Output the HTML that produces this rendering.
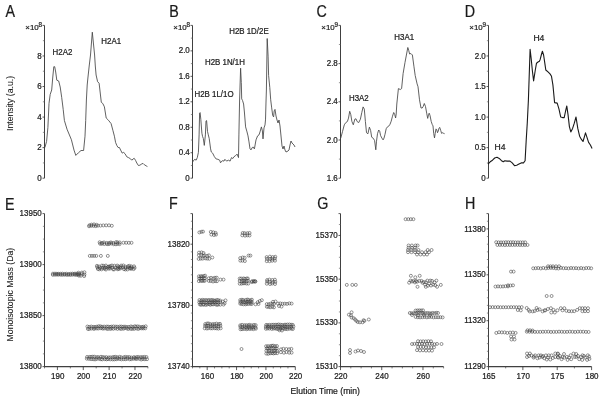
<!DOCTYPE html>
<html><head><meta charset="utf-8"><style>
html,body{margin:0;padding:0;background:#fff;width:604px;height:401px;overflow:hidden}
svg{display:block;will-change:transform}
text{font-family:"Liberation Sans",sans-serif;stroke:#222;stroke-width:0.22px}
circle{fill:none;stroke:#3c3c3c;stroke-width:0.55}
</style></head><body>
<svg width="604" height="401" viewBox="0 0 604 401" font-family="Liberation Sans, sans-serif" fill="#222">
<rect width="604" height="401" fill="#fff"/>
<text transform="translate(5.4,16.6) scale(1,1.11)" font-size="14.3" fill="#1a1a1a">A</text>
<text transform="translate(169.3,17.1) scale(1,1.11)" font-size="14.3" fill="#1a1a1a">B</text>
<text transform="translate(316.6,17.1) scale(1,1.11)" font-size="14.3" fill="#1a1a1a">C</text>
<text transform="translate(464.8,17.0) scale(1,1.11)" font-size="14.3" fill="#1a1a1a">D</text>
<text transform="translate(5.0,209.8) scale(1,1.11)" font-size="14.3" fill="#1a1a1a">E</text>
<text transform="translate(169.0,209.0) scale(1,1.11)" font-size="14.3" fill="#1a1a1a">F</text>
<text transform="translate(317.3,209.1) scale(1,1.11)" font-size="14.3" fill="#1a1a1a">G</text>
<text transform="translate(465.1,208.6) scale(1,1.11)" font-size="14.3" fill="#1a1a1a">H</text>
<text transform="translate(13.2,103.5) rotate(-90)" font-size="8.7" text-anchor="middle" style="stroke-width:0.08px">Intensity (a.u.)</text>
<text transform="translate(13.4,294.6) rotate(-90)" font-size="8.7" text-anchor="middle" style="stroke-width:0.08px">Monoisotopic Mass (Da)</text>
<text x="290.6" y="393.6" font-size="8.6">Elution Time (min)</text>
<line x1="44.5" y1="25.4" x2="44.5" y2="178.2" stroke="#404040" stroke-width="1.05"/>
<line x1="42.5" y1="178.20" x2="44.5" y2="178.20" stroke="#333" stroke-width="0.8"/>
<text transform="translate(41.80,180.80) scale(1,1.12)" font-size="8.0" text-anchor="end">0</text>
<line x1="42.5" y1="147.64" x2="44.5" y2="147.64" stroke="#333" stroke-width="0.8"/>
<text transform="translate(41.80,150.24) scale(1,1.12)" font-size="8.0" text-anchor="end">2</text>
<line x1="42.5" y1="117.08" x2="44.5" y2="117.08" stroke="#333" stroke-width="0.8"/>
<text transform="translate(41.80,119.68) scale(1,1.12)" font-size="8.0" text-anchor="end">4</text>
<line x1="42.5" y1="86.52" x2="44.5" y2="86.52" stroke="#333" stroke-width="0.8"/>
<text transform="translate(41.80,89.12) scale(1,1.12)" font-size="8.0" text-anchor="end">6</text>
<line x1="42.5" y1="55.96" x2="44.5" y2="55.96" stroke="#333" stroke-width="0.8"/>
<text transform="translate(41.80,58.56) scale(1,1.12)" font-size="8.0" text-anchor="end">8</text>
<line x1="42.5" y1="25.40" x2="44.5" y2="25.40" stroke="#333" stroke-width="0.8"/>
<line x1="42.9" y1="162.92" x2="44.5" y2="162.92" stroke="#666" stroke-width="0.7"/>
<line x1="42.9" y1="132.36" x2="44.5" y2="132.36" stroke="#666" stroke-width="0.7"/>
<line x1="42.9" y1="101.80" x2="44.5" y2="101.80" stroke="#666" stroke-width="0.7"/>
<line x1="42.9" y1="71.24" x2="44.5" y2="71.24" stroke="#666" stroke-width="0.7"/>
<line x1="42.9" y1="40.68" x2="44.5" y2="40.68" stroke="#666" stroke-width="0.7"/>
<text x="38.70" y="29.9" font-size="7.9" text-anchor="end">×10</text>
<text x="42.10" y="27.0" font-size="6.3" text-anchor="end">8</text>
<line x1="192.5" y1="25.4" x2="192.5" y2="178.2" stroke="#404040" stroke-width="1.05"/>
<line x1="190.5" y1="178.20" x2="192.5" y2="178.20" stroke="#333" stroke-width="0.8"/>
<text transform="translate(189.80,180.80) scale(1,1.12)" font-size="8.0" text-anchor="end">0</text>
<line x1="190.5" y1="152.73" x2="192.5" y2="152.73" stroke="#333" stroke-width="0.8"/>
<text transform="translate(189.80,155.33) scale(1,1.12)" font-size="8.0" text-anchor="end">0.4</text>
<line x1="190.5" y1="127.27" x2="192.5" y2="127.27" stroke="#333" stroke-width="0.8"/>
<text transform="translate(189.80,129.87) scale(1,1.12)" font-size="8.0" text-anchor="end">0.8</text>
<line x1="190.5" y1="101.80" x2="192.5" y2="101.80" stroke="#333" stroke-width="0.8"/>
<text transform="translate(189.80,104.40) scale(1,1.12)" font-size="8.0" text-anchor="end">1.2</text>
<line x1="190.5" y1="76.33" x2="192.5" y2="76.33" stroke="#333" stroke-width="0.8"/>
<text transform="translate(189.80,78.93) scale(1,1.12)" font-size="8.0" text-anchor="end">1.6</text>
<line x1="190.5" y1="50.87" x2="192.5" y2="50.87" stroke="#333" stroke-width="0.8"/>
<text transform="translate(189.80,53.47) scale(1,1.12)" font-size="8.0" text-anchor="end">2.0</text>
<line x1="190.5" y1="25.40" x2="192.5" y2="25.40" stroke="#333" stroke-width="0.8"/>
<line x1="190.9" y1="165.47" x2="192.5" y2="165.47" stroke="#666" stroke-width="0.7"/>
<line x1="190.9" y1="140.00" x2="192.5" y2="140.00" stroke="#666" stroke-width="0.7"/>
<line x1="190.9" y1="114.53" x2="192.5" y2="114.53" stroke="#666" stroke-width="0.7"/>
<line x1="190.9" y1="89.07" x2="192.5" y2="89.07" stroke="#666" stroke-width="0.7"/>
<line x1="190.9" y1="63.60" x2="192.5" y2="63.60" stroke="#666" stroke-width="0.7"/>
<line x1="190.9" y1="38.13" x2="192.5" y2="38.13" stroke="#666" stroke-width="0.7"/>
<text x="186.70" y="29.9" font-size="7.9" text-anchor="end">×10</text>
<text x="190.10" y="27.0" font-size="6.3" text-anchor="end">8</text>
<line x1="340.5" y1="25.4" x2="340.5" y2="178.2" stroke="#404040" stroke-width="1.05"/>
<line x1="338.5" y1="178.20" x2="340.5" y2="178.20" stroke="#333" stroke-width="0.8"/>
<text transform="translate(337.80,180.80) scale(1,1.12)" font-size="8.0" text-anchor="end">1.6</text>
<line x1="338.5" y1="140.00" x2="340.5" y2="140.00" stroke="#333" stroke-width="0.8"/>
<text transform="translate(337.80,142.60) scale(1,1.12)" font-size="8.0" text-anchor="end">2.0</text>
<line x1="338.5" y1="101.80" x2="340.5" y2="101.80" stroke="#333" stroke-width="0.8"/>
<text transform="translate(337.80,104.40) scale(1,1.12)" font-size="8.0" text-anchor="end">2.4</text>
<line x1="338.5" y1="63.60" x2="340.5" y2="63.60" stroke="#333" stroke-width="0.8"/>
<text transform="translate(337.80,66.20) scale(1,1.12)" font-size="8.0" text-anchor="end">2.8</text>
<line x1="338.5" y1="25.40" x2="340.5" y2="25.40" stroke="#333" stroke-width="0.8"/>
<line x1="338.9" y1="159.10" x2="340.5" y2="159.10" stroke="#666" stroke-width="0.7"/>
<line x1="338.9" y1="120.90" x2="340.5" y2="120.90" stroke="#666" stroke-width="0.7"/>
<line x1="338.9" y1="82.70" x2="340.5" y2="82.70" stroke="#666" stroke-width="0.7"/>
<line x1="338.9" y1="44.50" x2="340.5" y2="44.50" stroke="#666" stroke-width="0.7"/>
<text x="334.70" y="29.9" font-size="7.9" text-anchor="end">×10</text>
<text x="338.10" y="27.0" font-size="6.3" text-anchor="end">9</text>
<line x1="488.5" y1="25.4" x2="488.5" y2="178.2" stroke="#404040" stroke-width="1.05"/>
<line x1="486.5" y1="178.20" x2="488.5" y2="178.20" stroke="#333" stroke-width="0.8"/>
<text transform="translate(485.80,180.80) scale(1,1.12)" font-size="8.0" text-anchor="end">0</text>
<line x1="486.5" y1="147.64" x2="488.5" y2="147.64" stroke="#333" stroke-width="0.8"/>
<text transform="translate(485.80,150.24) scale(1,1.12)" font-size="8.0" text-anchor="end">0.5</text>
<line x1="486.5" y1="117.08" x2="488.5" y2="117.08" stroke="#333" stroke-width="0.8"/>
<text transform="translate(485.80,119.68) scale(1,1.12)" font-size="8.0" text-anchor="end">1.0</text>
<line x1="486.5" y1="86.52" x2="488.5" y2="86.52" stroke="#333" stroke-width="0.8"/>
<text transform="translate(485.80,89.12) scale(1,1.12)" font-size="8.0" text-anchor="end">1.5</text>
<line x1="486.5" y1="55.96" x2="488.5" y2="55.96" stroke="#333" stroke-width="0.8"/>
<text transform="translate(485.80,58.56) scale(1,1.12)" font-size="8.0" text-anchor="end">2.0</text>
<line x1="486.5" y1="25.40" x2="488.5" y2="25.40" stroke="#333" stroke-width="0.8"/>
<line x1="486.9" y1="162.92" x2="488.5" y2="162.92" stroke="#666" stroke-width="0.7"/>
<line x1="486.9" y1="132.36" x2="488.5" y2="132.36" stroke="#666" stroke-width="0.7"/>
<line x1="486.9" y1="101.80" x2="488.5" y2="101.80" stroke="#666" stroke-width="0.7"/>
<line x1="486.9" y1="71.24" x2="488.5" y2="71.24" stroke="#666" stroke-width="0.7"/>
<line x1="486.9" y1="40.68" x2="488.5" y2="40.68" stroke="#666" stroke-width="0.7"/>
<text x="482.70" y="29.9" font-size="7.9" text-anchor="end">×10</text>
<text x="486.10" y="27.0" font-size="6.3" text-anchor="end">9</text>
<polyline points="44.9,147.5 46.6,141.4 47.9,127.5 49,103.4 50.2,94.4 51.7,90 52.7,78 53.8,66.7 54.7,66.7 55.7,72 56.8,80.2 58.7,81 60.2,87 61.7,97.4 63.2,109.4 64.4,120.5 67,129.2 71.4,139.7 74,150.1 75.8,155.4 78.4,152.8 81,150.5 83.6,150.5 85,136.2 85.7,120.5 86.4,100 87.2,85 87.9,78 89.2,66 90.5,55 92.3,32.2 94.6,55 95.3,66 96.1,75 97.6,81.7 99.1,83.2 99.9,90 101.3,102.3 102.8,103.5 104.4,106.8 106.2,118 108.5,120.3 111.1,123.6 112.9,130.4 114.4,136.2 115.6,142.5 116.9,145.6 118.1,147.5 119.4,147.5 120.6,150 122.2,153.1 123.7,152.4 125,153.7 126.8,156.8 128.7,157.7 130.6,158.9 131.8,160.2 133.1,158.9 134.3,158.4 135.6,160.5 136.8,163 138.4,165.5 139.9,165.2 141.8,163.9 143,163.4 144.3,164.7 146.2,165.9 147.4,166.5" fill="none" stroke="#444" stroke-width="0.85" stroke-linejoin="round"/>
<text transform="translate(52.6,54.8) scale(1,1.12)" font-size="7.9">H2A2</text>
<text transform="translate(101.3,43.6) scale(1,1.12)" font-size="7.9">H2A1</text>
<polyline points="192.6,162 193.8,160.2 194.9,159.3 196.1,160.2 197.3,157.6 198.4,152.4 199.1,134.9 199.6,113.1 200.1,112.6 200.8,119.2 201.9,133.2 202.6,136.6 203.3,138.4 204.3,145.4 205.4,134.9 206,120.9 206.6,120.6 207.5,131.4 208.3,134.9 209.2,138.4 210.6,148.9 211.3,152 212.7,153.2 214.4,156.7 216.2,159 217.9,159.3 219.7,160.2 220.5,162.8 222.3,160.7 224,161.1 224.9,159.3 226.6,161.1 228.4,160.2 230.1,161.1 231.5,157.6 232.8,158.5 234,156.7 235.4,155.8 237.1,154.1 238.5,157.6 238.9,134.9 239.6,100 240.6,68.2 241.3,82.5 241.7,98.9 242.5,100.4 243.6,104 244.4,112 245.6,126.9 247,131.9 248,135.9 249,141.9 250,148.9 251,149.9 252,147.9 253,146.9 254.4,148.9 256,139.9 257.6,135.9 259,134.9 260,131.9 261.4,126.9 262.4,130.9 263,138.9 264,127.9 265,124.9 265.5,119.9 266,102 266.4,90 267.2,38.5 268.1,56.2 268.6,75.4 269.8,87.6 270.7,99.8 271.7,107.9 272.7,115.4 273.6,116.9 274.2,110.9 275,109.4 276,116 277,120 278,123 279,120 280,126 281,136 282,146 283,149 284,146 285,150 286,152 288,151 289,150 290,145 291,141 292,143 293,144 294,145 295,147" fill="none" stroke="#444" stroke-width="0.85" stroke-linejoin="round"/>
<text transform="translate(229.2,33.9) scale(1,1.12)" font-size="7.9">H2B 1D/2E</text>
<text transform="translate(205.0,65.0) scale(1,1.12)" font-size="7.9">H2B 1N/1H</text>
<text transform="translate(194.5,97.0) scale(1,1.12)" font-size="7.9">H2B 1L/1O</text>
<polyline points="340.7,138.3 342.5,131.6 344.3,124.8 345.8,122.6 347.4,121.5 348.5,118.1 349.7,111.3 350.8,114.7 351.9,121.5 353.3,124.8 354.8,119.2 356,118.8 357.1,121.5 358.7,122.6 360.4,119.2 361.8,112.5 363.1,106.9 364.3,109.1 365.4,121.5 366.5,132.7 367.9,133.8 369.4,127.1 370.6,130.4 371.7,137.2 373.3,138.3 374.6,140.6 375.8,149.8 376.5,141.2 377.5,133.7 378.7,130 379.7,131.2 380.6,135.6 381.9,138.1 383.1,139.9 384,138.1 385,134.3 386.2,128.7 387.5,126.8 388.7,126.2 390,124.3 391.2,121.2 392.5,116.2 393.7,112.5 394.7,114.4 395.6,118 396.2,114 396.8,104 398.4,88.6 400.3,89.5 401.6,88.6 403.1,73.6 405,62.4 406.4,55 407.8,47.5 408.7,50.3 409.6,54 410.9,53.5 412.4,55 413.9,66.2 415.2,75.5 417.1,83.9 418,86.7 419.5,99.8 421,108 422.2,108 423.2,106.5 424.3,103.5 425.5,106.5 426.7,113.2 427.7,118.4 428.5,114.7 429.2,113.2 430,115.4 431.2,121.4 432.2,124.4 433,125.9 433.7,133.4 434.5,137.9 435.2,133.4 436,128.9 436.7,129.7 437.5,132.7 438.2,131.2 439,128.2 439.7,127.4 440.7,130.4 441.6,133.4 442.7,132.7 443.7,133.4 444.6,133.7" fill="none" stroke="#444" stroke-width="0.85" stroke-linejoin="round"/>
<text transform="translate(394.3,39.8) scale(1,1.12)" font-size="7.9">H3A1</text>
<text transform="translate(349.0,100.6) scale(1,1.12)" font-size="7.9">H3A2</text>
<polyline points="488,164 490.2,161.8 492.5,160.2 494.7,158 497,157.3 499.2,158.4 501.5,160.7 503.3,161.8 504.8,160.7 507.1,161.1 510,161.1 512.2,162.9 514.5,165.6 516.7,165.2 519,164 521.2,162.9 523.5,162.9 525.1,160.7 526.2,140.4 527.3,122.5 528.4,100 530.1,49.3 531.2,58.7 532.3,70 533.6,80.9 535.3,70 536.5,63.2 538,62 539.4,61.3 540.2,59.4 541.3,55 542.4,51.2 543.6,55 544.7,62.4 545.8,70 548,71.9 550,73.9 551.5,76.3 552.9,84.9 553.4,90 554.6,102.6 557.2,103.1 559,109.2 560.7,117 562.5,117.6 564.2,117.6 565.6,111 566.8,106 568,114.4 569.4,126.6 570.8,131.9 572.6,128.4 574.3,123.2 576,117 577.8,128.4 579.6,136.2 581.6,139.7 583,141.5 584.3,137.1 585.5,132.8 586.9,137.1 588.6,142.4 590.4,145 592.1,148.5" fill="none" stroke="#1a1a1a" stroke-width="1.1" stroke-linejoin="round"/>
<text x="533.4" y="41.0" font-size="8.6">H4</text>
<text x="494.5" y="149.8" font-size="8.6">H4</text>
<line x1="44.5" y1="213.6" x2="44.5" y2="366.6" stroke="#404040" stroke-width="1.05"/>
<line x1="42.5" y1="366.60" x2="44.5" y2="366.60" stroke="#333" stroke-width="0.8"/>
<text transform="translate(41.80,369.20) scale(1,1.12)" font-size="8.0" text-anchor="end">13800</text>
<line x1="42.5" y1="315.60" x2="44.5" y2="315.60" stroke="#333" stroke-width="0.8"/>
<text transform="translate(41.80,318.20) scale(1,1.12)" font-size="8.0" text-anchor="end">13850</text>
<line x1="42.5" y1="264.60" x2="44.5" y2="264.60" stroke="#333" stroke-width="0.8"/>
<text transform="translate(41.80,267.20) scale(1,1.12)" font-size="8.0" text-anchor="end">13900</text>
<line x1="42.5" y1="213.60" x2="44.5" y2="213.60" stroke="#333" stroke-width="0.8"/>
<text transform="translate(41.80,216.20) scale(1,1.12)" font-size="8.0" text-anchor="end">13950</text>
<line x1="42.9" y1="353.85" x2="44.5" y2="353.85" stroke="#666" stroke-width="0.7"/>
<line x1="42.9" y1="341.10" x2="44.5" y2="341.10" stroke="#666" stroke-width="0.7"/>
<line x1="42.9" y1="328.35" x2="44.5" y2="328.35" stroke="#666" stroke-width="0.7"/>
<line x1="42.9" y1="302.85" x2="44.5" y2="302.85" stroke="#666" stroke-width="0.7"/>
<line x1="42.9" y1="290.10" x2="44.5" y2="290.10" stroke="#666" stroke-width="0.7"/>
<line x1="42.9" y1="277.35" x2="44.5" y2="277.35" stroke="#666" stroke-width="0.7"/>
<line x1="42.9" y1="251.85" x2="44.5" y2="251.85" stroke="#666" stroke-width="0.7"/>
<line x1="42.9" y1="239.10" x2="44.5" y2="239.10" stroke="#666" stroke-width="0.7"/>
<line x1="42.9" y1="226.35" x2="44.5" y2="226.35" stroke="#666" stroke-width="0.7"/>
<line x1="44.0" y1="366.6" x2="147.9" y2="366.6" stroke="#404040" stroke-width="1.05"/>
<line x1="57.42" y1="366.6" x2="57.42" y2="370.1" stroke="#333" stroke-width="0.8"/>
<text transform="translate(57.72,378.70) scale(1,1.12)" font-size="8.0" text-anchor="middle">190</text>
<line x1="83.28" y1="366.6" x2="83.28" y2="370.1" stroke="#333" stroke-width="0.8"/>
<text transform="translate(83.58,378.70) scale(1,1.12)" font-size="8.0" text-anchor="middle">200</text>
<line x1="109.12" y1="366.6" x2="109.12" y2="370.1" stroke="#333" stroke-width="0.8"/>
<text transform="translate(109.42,378.70) scale(1,1.12)" font-size="8.0" text-anchor="middle">210</text>
<line x1="134.97" y1="366.6" x2="134.97" y2="370.1" stroke="#333" stroke-width="0.8"/>
<text transform="translate(135.28,378.70) scale(1,1.12)" font-size="8.0" text-anchor="middle">220</text>
<line x1="44.50" y1="366.6" x2="44.50" y2="368.40000000000003" stroke="#444" stroke-width="0.7"/>
<line x1="70.35" y1="366.6" x2="70.35" y2="368.40000000000003" stroke="#444" stroke-width="0.7"/>
<line x1="96.20" y1="366.6" x2="96.20" y2="368.40000000000003" stroke="#444" stroke-width="0.7"/>
<line x1="122.05" y1="366.6" x2="122.05" y2="368.40000000000003" stroke="#444" stroke-width="0.7"/>
<line x1="147.90" y1="366.6" x2="147.90" y2="368.40000000000003" stroke="#444" stroke-width="0.7"/>
<line x1="192.5" y1="213.6" x2="192.5" y2="366.6" stroke="#404040" stroke-width="1.05"/>
<line x1="190.5" y1="366.60" x2="192.5" y2="366.60" stroke="#333" stroke-width="0.8"/>
<text transform="translate(189.80,369.20) scale(1,1.12)" font-size="8.0" text-anchor="end">13740</text>
<line x1="190.5" y1="305.40" x2="192.5" y2="305.40" stroke="#333" stroke-width="0.8"/>
<text transform="translate(189.80,308.00) scale(1,1.12)" font-size="8.0" text-anchor="end">13780</text>
<line x1="190.5" y1="244.20" x2="192.5" y2="244.20" stroke="#333" stroke-width="0.8"/>
<text transform="translate(189.80,246.80) scale(1,1.12)" font-size="8.0" text-anchor="end">13820</text>
<line x1="190.5" y1="213.60" x2="192.5" y2="213.60" stroke="#333" stroke-width="0.8"/>
<line x1="190.9" y1="358.95" x2="192.5" y2="358.95" stroke="#666" stroke-width="0.7"/>
<line x1="190.9" y1="351.30" x2="192.5" y2="351.30" stroke="#666" stroke-width="0.7"/>
<line x1="190.9" y1="343.65" x2="192.5" y2="343.65" stroke="#666" stroke-width="0.7"/>
<line x1="190.9" y1="336.00" x2="192.5" y2="336.00" stroke="#666" stroke-width="0.7"/>
<line x1="190.9" y1="328.35" x2="192.5" y2="328.35" stroke="#666" stroke-width="0.7"/>
<line x1="190.9" y1="320.70" x2="192.5" y2="320.70" stroke="#666" stroke-width="0.7"/>
<line x1="190.9" y1="313.05" x2="192.5" y2="313.05" stroke="#666" stroke-width="0.7"/>
<line x1="190.9" y1="297.75" x2="192.5" y2="297.75" stroke="#666" stroke-width="0.7"/>
<line x1="190.9" y1="290.10" x2="192.5" y2="290.10" stroke="#666" stroke-width="0.7"/>
<line x1="190.9" y1="282.45" x2="192.5" y2="282.45" stroke="#666" stroke-width="0.7"/>
<line x1="190.9" y1="274.80" x2="192.5" y2="274.80" stroke="#666" stroke-width="0.7"/>
<line x1="190.9" y1="267.15" x2="192.5" y2="267.15" stroke="#666" stroke-width="0.7"/>
<line x1="190.9" y1="259.50" x2="192.5" y2="259.50" stroke="#666" stroke-width="0.7"/>
<line x1="190.9" y1="251.85" x2="192.5" y2="251.85" stroke="#666" stroke-width="0.7"/>
<line x1="190.9" y1="236.55" x2="192.5" y2="236.55" stroke="#666" stroke-width="0.7"/>
<line x1="190.9" y1="228.90" x2="192.5" y2="228.90" stroke="#666" stroke-width="0.7"/>
<line x1="190.9" y1="221.25" x2="192.5" y2="221.25" stroke="#666" stroke-width="0.7"/>
<line x1="192.0" y1="366.6" x2="295.3" y2="366.6" stroke="#404040" stroke-width="1.05"/>
<line x1="207.19" y1="366.6" x2="207.19" y2="370.1" stroke="#333" stroke-width="0.8"/>
<text transform="translate(207.49,378.70) scale(1,1.12)" font-size="8.0" text-anchor="middle">160</text>
<line x1="236.56" y1="366.6" x2="236.56" y2="370.1" stroke="#333" stroke-width="0.8"/>
<text transform="translate(236.86,378.70) scale(1,1.12)" font-size="8.0" text-anchor="middle">180</text>
<line x1="265.93" y1="366.6" x2="265.93" y2="370.1" stroke="#333" stroke-width="0.8"/>
<text transform="translate(266.23,378.70) scale(1,1.12)" font-size="8.0" text-anchor="middle">200</text>
<line x1="295.30" y1="366.6" x2="295.30" y2="370.1" stroke="#333" stroke-width="0.8"/>
<text transform="translate(295.60,378.70) scale(1,1.12)" font-size="8.0" text-anchor="middle">220</text>
<line x1="192.50" y1="366.6" x2="192.50" y2="368.40000000000003" stroke="#444" stroke-width="0.7"/>
<line x1="199.84" y1="366.6" x2="199.84" y2="368.40000000000003" stroke="#444" stroke-width="0.7"/>
<line x1="214.53" y1="366.6" x2="214.53" y2="368.40000000000003" stroke="#444" stroke-width="0.7"/>
<line x1="221.87" y1="366.6" x2="221.87" y2="368.40000000000003" stroke="#444" stroke-width="0.7"/>
<line x1="229.21" y1="366.6" x2="229.21" y2="368.40000000000003" stroke="#444" stroke-width="0.7"/>
<line x1="243.90" y1="366.6" x2="243.90" y2="368.40000000000003" stroke="#444" stroke-width="0.7"/>
<line x1="251.24" y1="366.6" x2="251.24" y2="368.40000000000003" stroke="#444" stroke-width="0.7"/>
<line x1="258.59" y1="366.6" x2="258.59" y2="368.40000000000003" stroke="#444" stroke-width="0.7"/>
<line x1="273.27" y1="366.6" x2="273.27" y2="368.40000000000003" stroke="#444" stroke-width="0.7"/>
<line x1="280.61" y1="366.6" x2="280.61" y2="368.40000000000003" stroke="#444" stroke-width="0.7"/>
<line x1="287.96" y1="366.6" x2="287.96" y2="368.40000000000003" stroke="#444" stroke-width="0.7"/>
<line x1="340.5" y1="213.6" x2="340.5" y2="366.6" stroke="#404040" stroke-width="1.05"/>
<line x1="338.5" y1="366.60" x2="340.5" y2="366.60" stroke="#333" stroke-width="0.8"/>
<text transform="translate(337.80,369.20) scale(1,1.12)" font-size="8.0" text-anchor="end">15310</text>
<line x1="338.5" y1="322.89" x2="340.5" y2="322.89" stroke="#333" stroke-width="0.8"/>
<text transform="translate(337.80,325.49) scale(1,1.12)" font-size="8.0" text-anchor="end">15330</text>
<line x1="338.5" y1="279.17" x2="340.5" y2="279.17" stroke="#333" stroke-width="0.8"/>
<text transform="translate(337.80,281.77) scale(1,1.12)" font-size="8.0" text-anchor="end">15350</text>
<line x1="338.5" y1="235.46" x2="340.5" y2="235.46" stroke="#333" stroke-width="0.8"/>
<text transform="translate(337.80,238.06) scale(1,1.12)" font-size="8.0" text-anchor="end">15370</text>
<line x1="338.5" y1="213.60" x2="340.5" y2="213.60" stroke="#333" stroke-width="0.8"/>
<line x1="338.9" y1="355.67" x2="340.5" y2="355.67" stroke="#666" stroke-width="0.7"/>
<line x1="338.9" y1="344.74" x2="340.5" y2="344.74" stroke="#666" stroke-width="0.7"/>
<line x1="338.9" y1="333.81" x2="340.5" y2="333.81" stroke="#666" stroke-width="0.7"/>
<line x1="338.9" y1="311.96" x2="340.5" y2="311.96" stroke="#666" stroke-width="0.7"/>
<line x1="338.9" y1="301.03" x2="340.5" y2="301.03" stroke="#666" stroke-width="0.7"/>
<line x1="338.9" y1="290.10" x2="340.5" y2="290.10" stroke="#666" stroke-width="0.7"/>
<line x1="338.9" y1="268.24" x2="340.5" y2="268.24" stroke="#666" stroke-width="0.7"/>
<line x1="338.9" y1="257.31" x2="340.5" y2="257.31" stroke="#666" stroke-width="0.7"/>
<line x1="338.9" y1="246.39" x2="340.5" y2="246.39" stroke="#666" stroke-width="0.7"/>
<line x1="338.9" y1="224.53" x2="340.5" y2="224.53" stroke="#666" stroke-width="0.7"/>
<line x1="340.0" y1="366.6" x2="443.6" y2="366.6" stroke="#404040" stroke-width="1.05"/>
<line x1="340.50" y1="366.6" x2="340.50" y2="370.1" stroke="#333" stroke-width="0.8"/>
<text transform="translate(340.80,378.70) scale(1,1.12)" font-size="8.0" text-anchor="middle">220</text>
<line x1="381.74" y1="366.6" x2="381.74" y2="370.1" stroke="#333" stroke-width="0.8"/>
<text transform="translate(382.04,378.70) scale(1,1.12)" font-size="8.0" text-anchor="middle">240</text>
<line x1="422.98" y1="366.6" x2="422.98" y2="370.1" stroke="#333" stroke-width="0.8"/>
<text transform="translate(423.28,378.70) scale(1,1.12)" font-size="8.0" text-anchor="middle">260</text>
<line x1="350.81" y1="366.6" x2="350.81" y2="368.40000000000003" stroke="#444" stroke-width="0.7"/>
<line x1="361.12" y1="366.6" x2="361.12" y2="368.40000000000003" stroke="#444" stroke-width="0.7"/>
<line x1="371.43" y1="366.6" x2="371.43" y2="368.40000000000003" stroke="#444" stroke-width="0.7"/>
<line x1="392.05" y1="366.6" x2="392.05" y2="368.40000000000003" stroke="#444" stroke-width="0.7"/>
<line x1="402.36" y1="366.6" x2="402.36" y2="368.40000000000003" stroke="#444" stroke-width="0.7"/>
<line x1="412.67" y1="366.6" x2="412.67" y2="368.40000000000003" stroke="#444" stroke-width="0.7"/>
<line x1="433.29" y1="366.6" x2="433.29" y2="368.40000000000003" stroke="#444" stroke-width="0.7"/>
<line x1="443.60" y1="366.6" x2="443.60" y2="368.40000000000003" stroke="#444" stroke-width="0.7"/>
<line x1="488.5" y1="213.6" x2="488.5" y2="366.6" stroke="#404040" stroke-width="1.05"/>
<line x1="486.5" y1="366.60" x2="488.5" y2="366.60" stroke="#333" stroke-width="0.8"/>
<text transform="translate(485.80,369.20) scale(1,1.12)" font-size="8.0" text-anchor="end">11290</text>
<line x1="486.5" y1="320.70" x2="488.5" y2="320.70" stroke="#333" stroke-width="0.8"/>
<text transform="translate(485.80,323.30) scale(1,1.12)" font-size="8.0" text-anchor="end">11320</text>
<line x1="486.5" y1="274.80" x2="488.5" y2="274.80" stroke="#333" stroke-width="0.8"/>
<text transform="translate(485.80,277.40) scale(1,1.12)" font-size="8.0" text-anchor="end">11350</text>
<line x1="486.5" y1="228.90" x2="488.5" y2="228.90" stroke="#333" stroke-width="0.8"/>
<text transform="translate(485.80,231.50) scale(1,1.12)" font-size="8.0" text-anchor="end">11380</text>
<line x1="486.5" y1="213.60" x2="488.5" y2="213.60" stroke="#333" stroke-width="0.8"/>
<line x1="486.9" y1="358.95" x2="488.5" y2="358.95" stroke="#666" stroke-width="0.7"/>
<line x1="486.9" y1="351.30" x2="488.5" y2="351.30" stroke="#666" stroke-width="0.7"/>
<line x1="486.9" y1="343.65" x2="488.5" y2="343.65" stroke="#666" stroke-width="0.7"/>
<line x1="486.9" y1="336.00" x2="488.5" y2="336.00" stroke="#666" stroke-width="0.7"/>
<line x1="486.9" y1="328.35" x2="488.5" y2="328.35" stroke="#666" stroke-width="0.7"/>
<line x1="486.9" y1="313.05" x2="488.5" y2="313.05" stroke="#666" stroke-width="0.7"/>
<line x1="486.9" y1="305.40" x2="488.5" y2="305.40" stroke="#666" stroke-width="0.7"/>
<line x1="486.9" y1="297.75" x2="488.5" y2="297.75" stroke="#666" stroke-width="0.7"/>
<line x1="486.9" y1="290.10" x2="488.5" y2="290.10" stroke="#666" stroke-width="0.7"/>
<line x1="486.9" y1="282.45" x2="488.5" y2="282.45" stroke="#666" stroke-width="0.7"/>
<line x1="486.9" y1="267.15" x2="488.5" y2="267.15" stroke="#666" stroke-width="0.7"/>
<line x1="486.9" y1="259.50" x2="488.5" y2="259.50" stroke="#666" stroke-width="0.7"/>
<line x1="486.9" y1="251.85" x2="488.5" y2="251.85" stroke="#666" stroke-width="0.7"/>
<line x1="486.9" y1="244.20" x2="488.5" y2="244.20" stroke="#666" stroke-width="0.7"/>
<line x1="486.9" y1="236.55" x2="488.5" y2="236.55" stroke="#666" stroke-width="0.7"/>
<line x1="486.9" y1="221.25" x2="488.5" y2="221.25" stroke="#666" stroke-width="0.7"/>
<line x1="488.0" y1="366.6" x2="591.6" y2="366.6" stroke="#404040" stroke-width="1.05"/>
<line x1="488.50" y1="366.6" x2="488.50" y2="370.1" stroke="#333" stroke-width="0.8"/>
<text transform="translate(488.80,378.70) scale(1,1.12)" font-size="8.0" text-anchor="middle">165</text>
<line x1="522.87" y1="366.6" x2="522.87" y2="370.1" stroke="#333" stroke-width="0.8"/>
<text transform="translate(523.17,378.70) scale(1,1.12)" font-size="8.0" text-anchor="middle">170</text>
<line x1="557.23" y1="366.6" x2="557.23" y2="370.1" stroke="#333" stroke-width="0.8"/>
<text transform="translate(557.53,378.70) scale(1,1.12)" font-size="8.0" text-anchor="middle">175</text>
<line x1="591.60" y1="366.6" x2="591.60" y2="370.1" stroke="#333" stroke-width="0.8"/>
<text transform="translate(591.90,378.70) scale(1,1.12)" font-size="8.0" text-anchor="middle">180</text>
<line x1="505.68" y1="366.6" x2="505.68" y2="368.40000000000003" stroke="#444" stroke-width="0.7"/>
<line x1="540.05" y1="366.6" x2="540.05" y2="368.40000000000003" stroke="#444" stroke-width="0.7"/>
<line x1="574.42" y1="366.6" x2="574.42" y2="368.40000000000003" stroke="#444" stroke-width="0.7"/>
<circle cx="52.93" cy="273.66" r="1.5"/>
<circle cx="54.98" cy="273.63" r="1.5"/>
<circle cx="56.86" cy="273.75" r="1.5"/>
<circle cx="58.59" cy="273.80" r="1.5"/>
<circle cx="60.51" cy="273.77" r="1.5"/>
<circle cx="62.44" cy="273.64" r="1.5"/>
<circle cx="64.51" cy="273.93" r="1.5"/>
<circle cx="66.31" cy="273.69" r="1.5"/>
<circle cx="68.44" cy="273.98" r="1.5"/>
<circle cx="70.34" cy="273.76" r="1.5"/>
<circle cx="72.42" cy="273.62" r="1.5"/>
<circle cx="74.30" cy="273.72" r="1.5"/>
<circle cx="75.93" cy="273.65" r="1.5"/>
<circle cx="77.92" cy="273.93" r="1.5"/>
<circle cx="52.87" cy="274.83" r="1.5"/>
<circle cx="54.98" cy="274.75" r="1.5"/>
<circle cx="56.87" cy="274.63" r="1.5"/>
<circle cx="58.59" cy="274.68" r="1.5"/>
<circle cx="60.76" cy="274.77" r="1.5"/>
<circle cx="62.54" cy="274.83" r="1.5"/>
<circle cx="64.52" cy="274.72" r="1.5"/>
<circle cx="66.58" cy="274.88" r="1.5"/>
<circle cx="68.28" cy="274.83" r="1.5"/>
<circle cx="70.32" cy="274.95" r="1.5"/>
<circle cx="72.32" cy="274.72" r="1.5"/>
<circle cx="74.35" cy="274.65" r="1.5"/>
<circle cx="76.04" cy="274.90" r="1.5"/>
<circle cx="77.86" cy="274.80" r="1.5"/>
<circle cx="78.45" cy="272.70" r="1.5"/>
<circle cx="81.82" cy="272.59" r="1.5"/>
<circle cx="84.45" cy="272.28" r="1.5"/>
<circle cx="79.23" cy="274.11" r="1.5"/>
<circle cx="81.60" cy="273.95" r="1.5"/>
<circle cx="84.41" cy="274.53" r="1.5"/>
<circle cx="78.97" cy="275.70" r="1.5"/>
<circle cx="80.97" cy="275.74" r="1.5"/>
<circle cx="84.18" cy="276.09" r="1.5"/>
<circle cx="89.00" cy="226.26" r="1.5"/>
<circle cx="91.25" cy="225.83" r="1.5"/>
<circle cx="93.50" cy="225.91" r="1.5"/>
<circle cx="95.75" cy="226.13" r="1.5"/>
<circle cx="98.00" cy="225.62" r="1.5"/>
<circle cx="91.50" cy="224.60" r="1.5"/>
<circle cx="94.00" cy="224.40" r="1.5"/>
<circle cx="96.50" cy="224.80" r="1.5"/>
<circle cx="89.50" cy="225.20" r="1.5"/>
<circle cx="100.50" cy="225.58" r="1.5"/>
<circle cx="103.33" cy="225.40" r="1.5"/>
<circle cx="106.15" cy="225.37" r="1.5"/>
<circle cx="108.97" cy="225.34" r="1.5"/>
<circle cx="111.80" cy="225.76" r="1.5"/>
<circle cx="99.63" cy="242.25" r="1.5"/>
<circle cx="102.11" cy="242.87" r="1.5"/>
<circle cx="104.03" cy="242.45" r="1.5"/>
<circle cx="106.72" cy="242.88" r="1.5"/>
<circle cx="109.21" cy="242.86" r="1.5"/>
<circle cx="110.89" cy="242.42" r="1.5"/>
<circle cx="113.19" cy="242.88" r="1.5"/>
<circle cx="116.01" cy="242.15" r="1.5"/>
<circle cx="117.45" cy="242.23" r="1.5"/>
<circle cx="119.73" cy="242.48" r="1.5"/>
<circle cx="100.09" cy="243.76" r="1.5"/>
<circle cx="101.73" cy="243.92" r="1.5"/>
<circle cx="104.31" cy="244.07" r="1.5"/>
<circle cx="107.12" cy="244.19" r="1.5"/>
<circle cx="108.90" cy="244.12" r="1.5"/>
<circle cx="111.29" cy="243.55" r="1.5"/>
<circle cx="113.73" cy="244.28" r="1.5"/>
<circle cx="115.93" cy="244.30" r="1.5"/>
<circle cx="117.67" cy="243.90" r="1.5"/>
<circle cx="119.60" cy="244.13" r="1.5"/>
<circle cx="123.50" cy="242.74" r="1.5"/>
<circle cx="126.17" cy="242.74" r="1.5"/>
<circle cx="128.83" cy="242.83" r="1.5"/>
<circle cx="131.50" cy="242.80" r="1.5"/>
<circle cx="89.80" cy="255.90" r="1.5"/>
<circle cx="91.97" cy="255.90" r="1.5"/>
<circle cx="94.13" cy="255.90" r="1.5"/>
<circle cx="96.30" cy="255.90" r="1.5"/>
<circle cx="100.90" cy="255.90" r="1.5"/>
<circle cx="107.80" cy="255.90" r="1.5"/>
<circle cx="96.94" cy="265.84" r="1.5"/>
<circle cx="98.98" cy="266.45" r="1.5"/>
<circle cx="101.95" cy="265.58" r="1.5"/>
<circle cx="103.59" cy="265.82" r="1.5"/>
<circle cx="105.90" cy="265.55" r="1.5"/>
<circle cx="108.72" cy="266.59" r="1.5"/>
<circle cx="110.33" cy="265.98" r="1.5"/>
<circle cx="111.95" cy="265.52" r="1.5"/>
<circle cx="114.46" cy="265.72" r="1.5"/>
<circle cx="117.28" cy="265.59" r="1.5"/>
<circle cx="118.30" cy="266.54" r="1.5"/>
<circle cx="121.16" cy="265.58" r="1.5"/>
<circle cx="123.33" cy="265.43" r="1.5"/>
<circle cx="125.45" cy="266.57" r="1.5"/>
<circle cx="128.07" cy="266.24" r="1.5"/>
<circle cx="129.37" cy="265.84" r="1.5"/>
<circle cx="131.39" cy="266.33" r="1.5"/>
<circle cx="134.05" cy="266.33" r="1.5"/>
<circle cx="97.26" cy="267.17" r="1.5"/>
<circle cx="100.08" cy="268.08" r="1.5"/>
<circle cx="102.29" cy="267.87" r="1.5"/>
<circle cx="104.39" cy="267.79" r="1.5"/>
<circle cx="105.71" cy="267.52" r="1.5"/>
<circle cx="108.03" cy="266.93" r="1.5"/>
<circle cx="109.72" cy="267.24" r="1.5"/>
<circle cx="112.19" cy="267.73" r="1.5"/>
<circle cx="115.32" cy="267.44" r="1.5"/>
<circle cx="117.44" cy="268.09" r="1.5"/>
<circle cx="119.61" cy="267.34" r="1.5"/>
<circle cx="120.73" cy="267.17" r="1.5"/>
<circle cx="122.84" cy="267.15" r="1.5"/>
<circle cx="125.59" cy="267.98" r="1.5"/>
<circle cx="128.04" cy="267.48" r="1.5"/>
<circle cx="129.92" cy="267.86" r="1.5"/>
<circle cx="131.27" cy="267.69" r="1.5"/>
<circle cx="134.57" cy="267.84" r="1.5"/>
<circle cx="97.85" cy="268.97" r="1.5"/>
<circle cx="99.20" cy="269.35" r="1.5"/>
<circle cx="101.56" cy="269.36" r="1.5"/>
<circle cx="104.60" cy="268.88" r="1.5"/>
<circle cx="105.95" cy="269.54" r="1.5"/>
<circle cx="108.55" cy="268.60" r="1.5"/>
<circle cx="109.86" cy="268.58" r="1.5"/>
<circle cx="113.10" cy="269.37" r="1.5"/>
<circle cx="114.18" cy="269.39" r="1.5"/>
<circle cx="117.50" cy="269.19" r="1.5"/>
<circle cx="118.76" cy="269.06" r="1.5"/>
<circle cx="120.60" cy="268.42" r="1.5"/>
<circle cx="123.92" cy="269.18" r="1.5"/>
<circle cx="125.45" cy="269.52" r="1.5"/>
<circle cx="127.47" cy="269.45" r="1.5"/>
<circle cx="130.16" cy="268.65" r="1.5"/>
<circle cx="131.51" cy="268.75" r="1.5"/>
<circle cx="133.64" cy="269.10" r="1.5"/>
<circle cx="87.41" cy="326.54" r="1.5"/>
<circle cx="89.18" cy="326.93" r="1.5"/>
<circle cx="91.22" cy="326.57" r="1.5"/>
<circle cx="93.28" cy="326.92" r="1.5"/>
<circle cx="95.02" cy="326.93" r="1.5"/>
<circle cx="96.96" cy="326.63" r="1.5"/>
<circle cx="98.84" cy="326.21" r="1.5"/>
<circle cx="100.65" cy="326.35" r="1.5"/>
<circle cx="102.17" cy="326.84" r="1.5"/>
<circle cx="104.18" cy="326.58" r="1.5"/>
<circle cx="106.49" cy="326.65" r="1.5"/>
<circle cx="108.04" cy="326.61" r="1.5"/>
<circle cx="110.10" cy="326.83" r="1.5"/>
<circle cx="111.61" cy="326.65" r="1.5"/>
<circle cx="113.59" cy="326.42" r="1.5"/>
<circle cx="115.88" cy="326.61" r="1.5"/>
<circle cx="117.58" cy="326.81" r="1.5"/>
<circle cx="119.74" cy="326.55" r="1.5"/>
<circle cx="121.37" cy="326.60" r="1.5"/>
<circle cx="123.16" cy="326.75" r="1.5"/>
<circle cx="124.98" cy="326.63" r="1.5"/>
<circle cx="126.87" cy="326.95" r="1.5"/>
<circle cx="128.92" cy="326.90" r="1.5"/>
<circle cx="130.99" cy="326.41" r="1.5"/>
<circle cx="132.55" cy="326.95" r="1.5"/>
<circle cx="134.65" cy="326.31" r="1.5"/>
<circle cx="135.94" cy="326.55" r="1.5"/>
<circle cx="137.77" cy="326.39" r="1.5"/>
<circle cx="139.65" cy="326.74" r="1.5"/>
<circle cx="142.09" cy="326.92" r="1.5"/>
<circle cx="143.45" cy="326.77" r="1.5"/>
<circle cx="145.73" cy="326.31" r="1.5"/>
<circle cx="87.91" cy="328.97" r="1.5"/>
<circle cx="89.25" cy="328.96" r="1.5"/>
<circle cx="91.26" cy="328.59" r="1.5"/>
<circle cx="93.60" cy="328.87" r="1.5"/>
<circle cx="94.81" cy="328.55" r="1.5"/>
<circle cx="96.97" cy="328.47" r="1.5"/>
<circle cx="98.58" cy="328.45" r="1.5"/>
<circle cx="100.87" cy="328.22" r="1.5"/>
<circle cx="102.61" cy="328.55" r="1.5"/>
<circle cx="104.05" cy="328.47" r="1.5"/>
<circle cx="106.41" cy="328.61" r="1.5"/>
<circle cx="107.83" cy="328.99" r="1.5"/>
<circle cx="110.28" cy="328.98" r="1.5"/>
<circle cx="111.61" cy="328.41" r="1.5"/>
<circle cx="113.43" cy="328.82" r="1.5"/>
<circle cx="115.48" cy="328.30" r="1.5"/>
<circle cx="117.47" cy="328.93" r="1.5"/>
<circle cx="119.66" cy="328.41" r="1.5"/>
<circle cx="121.00" cy="328.94" r="1.5"/>
<circle cx="123.20" cy="328.76" r="1.5"/>
<circle cx="124.69" cy="328.25" r="1.5"/>
<circle cx="127.04" cy="328.54" r="1.5"/>
<circle cx="128.42" cy="328.95" r="1.5"/>
<circle cx="130.74" cy="328.84" r="1.5"/>
<circle cx="132.17" cy="328.88" r="1.5"/>
<circle cx="134.03" cy="328.89" r="1.5"/>
<circle cx="136.21" cy="328.47" r="1.5"/>
<circle cx="138.16" cy="328.94" r="1.5"/>
<circle cx="139.80" cy="328.30" r="1.5"/>
<circle cx="141.88" cy="328.39" r="1.5"/>
<circle cx="143.42" cy="328.33" r="1.5"/>
<circle cx="145.24" cy="328.36" r="1.5"/>
<circle cx="87.05" cy="356.94" r="1.5"/>
<circle cx="89.33" cy="356.93" r="1.5"/>
<circle cx="91.05" cy="356.84" r="1.5"/>
<circle cx="92.85" cy="356.71" r="1.5"/>
<circle cx="94.69" cy="356.71" r="1.5"/>
<circle cx="97.00" cy="357.14" r="1.5"/>
<circle cx="98.49" cy="357.08" r="1.5"/>
<circle cx="101.01" cy="356.79" r="1.5"/>
<circle cx="102.84" cy="357.05" r="1.5"/>
<circle cx="104.50" cy="357.37" r="1.5"/>
<circle cx="106.34" cy="357.11" r="1.5"/>
<circle cx="108.50" cy="357.49" r="1.5"/>
<circle cx="110.15" cy="357.37" r="1.5"/>
<circle cx="112.36" cy="357.21" r="1.5"/>
<circle cx="114.04" cy="356.98" r="1.5"/>
<circle cx="115.68" cy="356.80" r="1.5"/>
<circle cx="117.62" cy="357.29" r="1.5"/>
<circle cx="119.69" cy="356.83" r="1.5"/>
<circle cx="121.47" cy="357.37" r="1.5"/>
<circle cx="124.03" cy="357.24" r="1.5"/>
<circle cx="125.48" cy="356.89" r="1.5"/>
<circle cx="127.41" cy="357.07" r="1.5"/>
<circle cx="129.22" cy="357.06" r="1.5"/>
<circle cx="131.23" cy="357.47" r="1.5"/>
<circle cx="133.72" cy="357.14" r="1.5"/>
<circle cx="135.06" cy="357.47" r="1.5"/>
<circle cx="137.03" cy="356.99" r="1.5"/>
<circle cx="138.71" cy="357.01" r="1.5"/>
<circle cx="141.01" cy="357.10" r="1.5"/>
<circle cx="142.72" cy="357.10" r="1.5"/>
<circle cx="144.48" cy="356.91" r="1.5"/>
<circle cx="146.47" cy="357.02" r="1.5"/>
<circle cx="86.83" cy="358.72" r="1.5"/>
<circle cx="88.97" cy="358.89" r="1.5"/>
<circle cx="91.11" cy="359.12" r="1.5"/>
<circle cx="93.17" cy="359.23" r="1.5"/>
<circle cx="95.06" cy="359.40" r="1.5"/>
<circle cx="96.72" cy="358.96" r="1.5"/>
<circle cx="99.12" cy="358.82" r="1.5"/>
<circle cx="100.84" cy="359.21" r="1.5"/>
<circle cx="102.22" cy="359.37" r="1.5"/>
<circle cx="104.82" cy="359.20" r="1.5"/>
<circle cx="106.61" cy="359.35" r="1.5"/>
<circle cx="108.06" cy="359.12" r="1.5"/>
<circle cx="110.27" cy="359.37" r="1.5"/>
<circle cx="112.44" cy="359.36" r="1.5"/>
<circle cx="114.18" cy="359.41" r="1.5"/>
<circle cx="116.19" cy="359.25" r="1.5"/>
<circle cx="117.75" cy="358.72" r="1.5"/>
<circle cx="119.59" cy="358.99" r="1.5"/>
<circle cx="121.49" cy="359.37" r="1.5"/>
<circle cx="123.78" cy="359.20" r="1.5"/>
<circle cx="125.75" cy="359.24" r="1.5"/>
<circle cx="127.57" cy="358.70" r="1.5"/>
<circle cx="129.73" cy="359.30" r="1.5"/>
<circle cx="131.42" cy="359.13" r="1.5"/>
<circle cx="133.47" cy="358.75" r="1.5"/>
<circle cx="135.45" cy="358.90" r="1.5"/>
<circle cx="136.85" cy="358.91" r="1.5"/>
<circle cx="139.29" cy="358.86" r="1.5"/>
<circle cx="141.22" cy="359.48" r="1.5"/>
<circle cx="142.95" cy="359.01" r="1.5"/>
<circle cx="144.86" cy="359.25" r="1.5"/>
<circle cx="147.01" cy="359.19" r="1.5"/>
<circle cx="199.40" cy="232.40" r="1.5"/>
<circle cx="201.40" cy="231.80" r="1.5"/>
<circle cx="203.00" cy="231.60" r="1.5"/>
<circle cx="210.80" cy="231.90" r="1.5"/>
<circle cx="213.30" cy="232.30" r="1.5"/>
<circle cx="215.60" cy="232.90" r="1.5"/>
<circle cx="211.40" cy="234.60" r="1.5"/>
<circle cx="213.90" cy="235.00" r="1.5"/>
<circle cx="216.00" cy="234.60" r="1.5"/>
<circle cx="242.70" cy="233.00" r="1.5"/>
<circle cx="244.65" cy="233.13" r="1.5"/>
<circle cx="247.37" cy="233.16" r="1.5"/>
<circle cx="249.55" cy="232.96" r="1.5"/>
<circle cx="242.29" cy="235.34" r="1.5"/>
<circle cx="245.02" cy="235.63" r="1.5"/>
<circle cx="247.32" cy="235.35" r="1.5"/>
<circle cx="249.51" cy="235.48" r="1.5"/>
<circle cx="199.00" cy="252.60" r="1.5"/>
<circle cx="201.50" cy="252.40" r="1.5"/>
<circle cx="203.50" cy="253.00" r="1.5"/>
<circle cx="198.88" cy="255.23" r="1.5"/>
<circle cx="201.20" cy="255.29" r="1.5"/>
<circle cx="203.27" cy="255.81" r="1.5"/>
<circle cx="204.62" cy="255.47" r="1.5"/>
<circle cx="207.20" cy="255.83" r="1.5"/>
<circle cx="208.96" cy="255.34" r="1.5"/>
<circle cx="198.70" cy="258.91" r="1.5"/>
<circle cx="200.72" cy="258.66" r="1.5"/>
<circle cx="202.69" cy="258.62" r="1.5"/>
<circle cx="205.28" cy="258.34" r="1.5"/>
<circle cx="207.20" cy="258.61" r="1.5"/>
<circle cx="209.27" cy="258.74" r="1.5"/>
<circle cx="212.30" cy="257.50" r="1.5"/>
<circle cx="248.60" cy="255.60" r="1.5"/>
<circle cx="250.40" cy="255.60" r="1.5"/>
<circle cx="240.21" cy="258.08" r="1.5"/>
<circle cx="242.69" cy="257.47" r="1.5"/>
<circle cx="244.65" cy="257.79" r="1.5"/>
<circle cx="240.37" cy="260.66" r="1.5"/>
<circle cx="242.45" cy="260.69" r="1.5"/>
<circle cx="244.87" cy="261.04" r="1.5"/>
<circle cx="266.65" cy="257.08" r="1.5"/>
<circle cx="269.90" cy="256.63" r="1.5"/>
<circle cx="272.63" cy="257.05" r="1.5"/>
<circle cx="275.28" cy="256.75" r="1.5"/>
<circle cx="266.91" cy="258.83" r="1.5"/>
<circle cx="270.02" cy="258.96" r="1.5"/>
<circle cx="272.24" cy="258.85" r="1.5"/>
<circle cx="274.84" cy="258.58" r="1.5"/>
<circle cx="266.72" cy="261.13" r="1.5"/>
<circle cx="269.52" cy="261.20" r="1.5"/>
<circle cx="272.16" cy="260.74" r="1.5"/>
<circle cx="275.01" cy="260.68" r="1.5"/>
<circle cx="198.91" cy="276.32" r="1.5"/>
<circle cx="200.77" cy="276.22" r="1.5"/>
<circle cx="202.09" cy="276.29" r="1.5"/>
<circle cx="203.81" cy="276.03" r="1.5"/>
<circle cx="205.15" cy="275.68" r="1.5"/>
<circle cx="199.16" cy="278.47" r="1.5"/>
<circle cx="200.68" cy="278.60" r="1.5"/>
<circle cx="201.85" cy="278.18" r="1.5"/>
<circle cx="203.80" cy="278.24" r="1.5"/>
<circle cx="204.98" cy="278.39" r="1.5"/>
<circle cx="198.86" cy="281.17" r="1.5"/>
<circle cx="200.83" cy="280.83" r="1.5"/>
<circle cx="202.11" cy="280.86" r="1.5"/>
<circle cx="203.54" cy="280.93" r="1.5"/>
<circle cx="204.77" cy="280.76" r="1.5"/>
<circle cx="208.80" cy="278.28" r="1.5"/>
<circle cx="211.00" cy="277.80" r="1.5"/>
<circle cx="213.28" cy="278.35" r="1.5"/>
<circle cx="214.96" cy="277.75" r="1.5"/>
<circle cx="216.78" cy="277.71" r="1.5"/>
<circle cx="208.89" cy="280.91" r="1.5"/>
<circle cx="210.82" cy="281.03" r="1.5"/>
<circle cx="213.05" cy="281.47" r="1.5"/>
<circle cx="215.17" cy="281.14" r="1.5"/>
<circle cx="216.94" cy="281.22" r="1.5"/>
<circle cx="220.50" cy="279.60" r="1.5"/>
<circle cx="223.50" cy="279.60" r="1.5"/>
<circle cx="239.71" cy="278.59" r="1.5"/>
<circle cx="241.13" cy="278.54" r="1.5"/>
<circle cx="243.41" cy="278.44" r="1.5"/>
<circle cx="244.72" cy="278.79" r="1.5"/>
<circle cx="246.61" cy="278.50" r="1.5"/>
<circle cx="247.84" cy="278.52" r="1.5"/>
<circle cx="239.73" cy="281.01" r="1.5"/>
<circle cx="241.76" cy="281.29" r="1.5"/>
<circle cx="243.34" cy="280.72" r="1.5"/>
<circle cx="244.39" cy="281.20" r="1.5"/>
<circle cx="246.64" cy="281.03" r="1.5"/>
<circle cx="248.06" cy="280.70" r="1.5"/>
<circle cx="239.72" cy="283.70" r="1.5"/>
<circle cx="241.67" cy="283.65" r="1.5"/>
<circle cx="243.41" cy="283.22" r="1.5"/>
<circle cx="244.45" cy="283.16" r="1.5"/>
<circle cx="246.38" cy="283.53" r="1.5"/>
<circle cx="248.31" cy="283.56" r="1.5"/>
<circle cx="252.10" cy="281.19" r="1.5"/>
<circle cx="253.77" cy="281.04" r="1.5"/>
<circle cx="255.28" cy="281.20" r="1.5"/>
<circle cx="251.81" cy="282.09" r="1.5"/>
<circle cx="253.90" cy="281.66" r="1.5"/>
<circle cx="255.34" cy="281.63" r="1.5"/>
<circle cx="267.10" cy="280.04" r="1.5"/>
<circle cx="269.40" cy="279.60" r="1.5"/>
<circle cx="272.35" cy="279.96" r="1.5"/>
<circle cx="274.92" cy="279.71" r="1.5"/>
<circle cx="267.07" cy="281.56" r="1.5"/>
<circle cx="269.53" cy="281.87" r="1.5"/>
<circle cx="272.65" cy="282.00" r="1.5"/>
<circle cx="275.27" cy="281.88" r="1.5"/>
<circle cx="266.81" cy="283.72" r="1.5"/>
<circle cx="269.99" cy="284.04" r="1.5"/>
<circle cx="272.20" cy="283.57" r="1.5"/>
<circle cx="275.00" cy="284.02" r="1.5"/>
<circle cx="199.44" cy="300.03" r="1.5"/>
<circle cx="201.19" cy="300.50" r="1.5"/>
<circle cx="202.46" cy="299.87" r="1.5"/>
<circle cx="204.12" cy="300.14" r="1.5"/>
<circle cx="205.94" cy="299.99" r="1.5"/>
<circle cx="207.59" cy="300.37" r="1.5"/>
<circle cx="208.96" cy="299.99" r="1.5"/>
<circle cx="210.87" cy="300.07" r="1.5"/>
<circle cx="212.34" cy="300.01" r="1.5"/>
<circle cx="213.50" cy="300.38" r="1.5"/>
<circle cx="215.13" cy="300.52" r="1.5"/>
<circle cx="216.84" cy="299.98" r="1.5"/>
<circle cx="218.23" cy="300.14" r="1.5"/>
<circle cx="220.12" cy="300.51" r="1.5"/>
<circle cx="199.25" cy="302.33" r="1.5"/>
<circle cx="200.88" cy="302.73" r="1.5"/>
<circle cx="202.40" cy="302.09" r="1.5"/>
<circle cx="203.92" cy="302.33" r="1.5"/>
<circle cx="206.09" cy="302.67" r="1.5"/>
<circle cx="207.55" cy="302.75" r="1.5"/>
<circle cx="209.26" cy="302.28" r="1.5"/>
<circle cx="210.32" cy="302.71" r="1.5"/>
<circle cx="212.29" cy="302.07" r="1.5"/>
<circle cx="213.81" cy="302.32" r="1.5"/>
<circle cx="215.18" cy="302.28" r="1.5"/>
<circle cx="216.61" cy="302.05" r="1.5"/>
<circle cx="218.27" cy="302.30" r="1.5"/>
<circle cx="220.32" cy="302.14" r="1.5"/>
<circle cx="199.82" cy="304.40" r="1.5"/>
<circle cx="200.98" cy="304.83" r="1.5"/>
<circle cx="202.88" cy="304.55" r="1.5"/>
<circle cx="203.92" cy="304.58" r="1.5"/>
<circle cx="205.72" cy="304.89" r="1.5"/>
<circle cx="207.17" cy="304.50" r="1.5"/>
<circle cx="209.24" cy="304.27" r="1.5"/>
<circle cx="210.48" cy="304.82" r="1.5"/>
<circle cx="212.30" cy="304.28" r="1.5"/>
<circle cx="213.37" cy="304.29" r="1.5"/>
<circle cx="215.56" cy="304.43" r="1.5"/>
<circle cx="217.02" cy="304.88" r="1.5"/>
<circle cx="218.31" cy="304.44" r="1.5"/>
<circle cx="220.32" cy="304.68" r="1.5"/>
<circle cx="222.80" cy="301.50" r="1.5"/>
<circle cx="224.60" cy="303.20" r="1.5"/>
<circle cx="223.50" cy="304.60" r="1.5"/>
<circle cx="225.50" cy="300.40" r="1.5"/>
<circle cx="240.23" cy="300.05" r="1.5"/>
<circle cx="241.93" cy="299.74" r="1.5"/>
<circle cx="243.37" cy="300.08" r="1.5"/>
<circle cx="245.66" cy="299.99" r="1.5"/>
<circle cx="247.34" cy="299.57" r="1.5"/>
<circle cx="248.50" cy="299.88" r="1.5"/>
<circle cx="250.66" cy="300.22" r="1.5"/>
<circle cx="251.92" cy="299.73" r="1.5"/>
<circle cx="240.35" cy="301.95" r="1.5"/>
<circle cx="242.36" cy="301.73" r="1.5"/>
<circle cx="243.93" cy="302.12" r="1.5"/>
<circle cx="245.60" cy="302.14" r="1.5"/>
<circle cx="247.10" cy="301.83" r="1.5"/>
<circle cx="248.56" cy="301.85" r="1.5"/>
<circle cx="250.54" cy="301.66" r="1.5"/>
<circle cx="251.79" cy="302.13" r="1.5"/>
<circle cx="240.22" cy="303.70" r="1.5"/>
<circle cx="241.73" cy="304.04" r="1.5"/>
<circle cx="243.59" cy="304.34" r="1.5"/>
<circle cx="245.64" cy="304.34" r="1.5"/>
<circle cx="246.86" cy="303.71" r="1.5"/>
<circle cx="248.40" cy="304.00" r="1.5"/>
<circle cx="250.49" cy="303.96" r="1.5"/>
<circle cx="251.81" cy="303.94" r="1.5"/>
<circle cx="255.50" cy="304.30" r="1.5"/>
<circle cx="257.80" cy="302.20" r="1.5"/>
<circle cx="259.80" cy="301.00" r="1.5"/>
<circle cx="261.80" cy="300.20" r="1.5"/>
<circle cx="258.50" cy="304.00" r="1.5"/>
<circle cx="266.78" cy="304.12" r="1.5"/>
<circle cx="268.70" cy="304.24" r="1.5"/>
<circle cx="270.47" cy="303.73" r="1.5"/>
<circle cx="272.41" cy="303.86" r="1.5"/>
<circle cx="274.05" cy="303.91" r="1.5"/>
<circle cx="266.87" cy="306.79" r="1.5"/>
<circle cx="268.35" cy="306.82" r="1.5"/>
<circle cx="270.11" cy="307.27" r="1.5"/>
<circle cx="272.23" cy="306.88" r="1.5"/>
<circle cx="273.93" cy="307.34" r="1.5"/>
<circle cx="273.00" cy="301.80" r="1.5"/>
<circle cx="275.50" cy="301.50" r="1.5"/>
<circle cx="278.00" cy="303.60" r="1.5"/>
<circle cx="280.27" cy="303.44" r="1.5"/>
<circle cx="282.53" cy="303.79" r="1.5"/>
<circle cx="284.80" cy="303.69" r="1.5"/>
<circle cx="287.07" cy="303.89" r="1.5"/>
<circle cx="289.33" cy="303.36" r="1.5"/>
<circle cx="291.60" cy="303.58" r="1.5"/>
<circle cx="279.00" cy="306.00" r="1.5"/>
<circle cx="281.50" cy="306.60" r="1.5"/>
<circle cx="205.22" cy="324.04" r="1.5"/>
<circle cx="207.20" cy="323.48" r="1.5"/>
<circle cx="208.68" cy="323.53" r="1.5"/>
<circle cx="210.52" cy="324.13" r="1.5"/>
<circle cx="212.71" cy="324.10" r="1.5"/>
<circle cx="214.47" cy="324.06" r="1.5"/>
<circle cx="216.44" cy="323.63" r="1.5"/>
<circle cx="218.58" cy="324.11" r="1.5"/>
<circle cx="220.02" cy="323.87" r="1.5"/>
<circle cx="205.08" cy="325.90" r="1.5"/>
<circle cx="206.82" cy="325.85" r="1.5"/>
<circle cx="208.62" cy="325.93" r="1.5"/>
<circle cx="210.81" cy="326.21" r="1.5"/>
<circle cx="212.44" cy="325.76" r="1.5"/>
<circle cx="214.44" cy="326.22" r="1.5"/>
<circle cx="216.25" cy="325.97" r="1.5"/>
<circle cx="218.18" cy="326.31" r="1.5"/>
<circle cx="220.33" cy="325.79" r="1.5"/>
<circle cx="204.72" cy="328.33" r="1.5"/>
<circle cx="206.95" cy="328.50" r="1.5"/>
<circle cx="208.54" cy="328.16" r="1.5"/>
<circle cx="210.87" cy="328.34" r="1.5"/>
<circle cx="212.50" cy="328.27" r="1.5"/>
<circle cx="214.88" cy="328.27" r="1.5"/>
<circle cx="216.52" cy="328.30" r="1.5"/>
<circle cx="218.33" cy="328.65" r="1.5"/>
<circle cx="220.65" cy="328.30" r="1.5"/>
<circle cx="240.19" cy="325.36" r="1.5"/>
<circle cx="242.09" cy="324.85" r="1.5"/>
<circle cx="244.48" cy="325.15" r="1.5"/>
<circle cx="246.32" cy="325.13" r="1.5"/>
<circle cx="248.27" cy="325.17" r="1.5"/>
<circle cx="249.66" cy="324.86" r="1.5"/>
<circle cx="251.84" cy="325.30" r="1.5"/>
<circle cx="253.99" cy="324.91" r="1.5"/>
<circle cx="255.69" cy="325.11" r="1.5"/>
<circle cx="240.40" cy="326.85" r="1.5"/>
<circle cx="242.15" cy="327.11" r="1.5"/>
<circle cx="244.50" cy="326.83" r="1.5"/>
<circle cx="246.09" cy="327.31" r="1.5"/>
<circle cx="248.33" cy="326.89" r="1.5"/>
<circle cx="249.64" cy="327.41" r="1.5"/>
<circle cx="252.13" cy="327.09" r="1.5"/>
<circle cx="253.39" cy="327.40" r="1.5"/>
<circle cx="255.52" cy="327.38" r="1.5"/>
<circle cx="240.48" cy="329.23" r="1.5"/>
<circle cx="242.06" cy="329.20" r="1.5"/>
<circle cx="244.01" cy="328.93" r="1.5"/>
<circle cx="246.34" cy="329.23" r="1.5"/>
<circle cx="247.78" cy="328.80" r="1.5"/>
<circle cx="249.83" cy="329.01" r="1.5"/>
<circle cx="251.72" cy="328.74" r="1.5"/>
<circle cx="253.52" cy="329.16" r="1.5"/>
<circle cx="255.88" cy="328.68" r="1.5"/>
<circle cx="266.14" cy="324.98" r="1.5"/>
<circle cx="267.58" cy="325.04" r="1.5"/>
<circle cx="269.43" cy="324.87" r="1.5"/>
<circle cx="271.54" cy="324.89" r="1.5"/>
<circle cx="273.16" cy="324.74" r="1.5"/>
<circle cx="275.16" cy="324.75" r="1.5"/>
<circle cx="277.01" cy="324.76" r="1.5"/>
<circle cx="278.66" cy="324.47" r="1.5"/>
<circle cx="280.58" cy="324.79" r="1.5"/>
<circle cx="282.11" cy="324.98" r="1.5"/>
<circle cx="284.30" cy="324.77" r="1.5"/>
<circle cx="285.68" cy="324.78" r="1.5"/>
<circle cx="287.42" cy="324.54" r="1.5"/>
<circle cx="289.45" cy="324.51" r="1.5"/>
<circle cx="291.26" cy="324.81" r="1.5"/>
<circle cx="292.78" cy="324.90" r="1.5"/>
<circle cx="265.81" cy="326.96" r="1.5"/>
<circle cx="268.09" cy="326.81" r="1.5"/>
<circle cx="269.39" cy="326.80" r="1.5"/>
<circle cx="271.41" cy="327.12" r="1.5"/>
<circle cx="273.05" cy="327.05" r="1.5"/>
<circle cx="275.45" cy="326.96" r="1.5"/>
<circle cx="277.12" cy="326.59" r="1.5"/>
<circle cx="279.04" cy="326.79" r="1.5"/>
<circle cx="280.82" cy="327.09" r="1.5"/>
<circle cx="282.07" cy="327.00" r="1.5"/>
<circle cx="284.40" cy="326.50" r="1.5"/>
<circle cx="285.80" cy="326.98" r="1.5"/>
<circle cx="287.46" cy="327.08" r="1.5"/>
<circle cx="289.34" cy="327.02" r="1.5"/>
<circle cx="291.05" cy="326.80" r="1.5"/>
<circle cx="293.39" cy="326.60" r="1.5"/>
<circle cx="265.93" cy="328.80" r="1.5"/>
<circle cx="267.77" cy="328.48" r="1.5"/>
<circle cx="269.48" cy="328.56" r="1.5"/>
<circle cx="271.81" cy="328.93" r="1.5"/>
<circle cx="273.58" cy="328.57" r="1.5"/>
<circle cx="275.30" cy="328.53" r="1.5"/>
<circle cx="276.92" cy="328.90" r="1.5"/>
<circle cx="278.60" cy="329.06" r="1.5"/>
<circle cx="280.54" cy="328.86" r="1.5"/>
<circle cx="282.57" cy="328.52" r="1.5"/>
<circle cx="284.45" cy="328.89" r="1.5"/>
<circle cx="285.83" cy="329.01" r="1.5"/>
<circle cx="287.54" cy="329.14" r="1.5"/>
<circle cx="289.55" cy="328.70" r="1.5"/>
<circle cx="291.49" cy="328.76" r="1.5"/>
<circle cx="292.87" cy="328.97" r="1.5"/>
<circle cx="279.50" cy="330.30" r="1.5"/>
<circle cx="282.00" cy="330.50" r="1.5"/>
<circle cx="241.50" cy="349.00" r="1.5"/>
<circle cx="266.08" cy="346.22" r="1.5"/>
<circle cx="267.99" cy="346.10" r="1.5"/>
<circle cx="270.27" cy="346.06" r="1.5"/>
<circle cx="271.81" cy="345.87" r="1.5"/>
<circle cx="273.12" cy="345.67" r="1.5"/>
<circle cx="274.99" cy="346.08" r="1.5"/>
<circle cx="276.95" cy="346.01" r="1.5"/>
<circle cx="266.68" cy="348.24" r="1.5"/>
<circle cx="267.98" cy="348.61" r="1.5"/>
<circle cx="269.60" cy="348.15" r="1.5"/>
<circle cx="271.60" cy="348.22" r="1.5"/>
<circle cx="273.37" cy="348.31" r="1.5"/>
<circle cx="275.29" cy="348.56" r="1.5"/>
<circle cx="276.79" cy="348.59" r="1.5"/>
<circle cx="266.38" cy="350.74" r="1.5"/>
<circle cx="268.47" cy="350.82" r="1.5"/>
<circle cx="269.69" cy="350.72" r="1.5"/>
<circle cx="271.80" cy="351.26" r="1.5"/>
<circle cx="273.66" cy="350.93" r="1.5"/>
<circle cx="275.07" cy="350.66" r="1.5"/>
<circle cx="277.10" cy="351.04" r="1.5"/>
<circle cx="266.30" cy="353.60" r="1.5"/>
<circle cx="268.13" cy="353.81" r="1.5"/>
<circle cx="270.10" cy="353.32" r="1.5"/>
<circle cx="271.98" cy="353.18" r="1.5"/>
<circle cx="273.49" cy="353.43" r="1.5"/>
<circle cx="275.05" cy="353.19" r="1.5"/>
<circle cx="277.20" cy="353.16" r="1.5"/>
<circle cx="281.04" cy="349.31" r="1.5"/>
<circle cx="283.40" cy="348.79" r="1.5"/>
<circle cx="286.38" cy="349.00" r="1.5"/>
<circle cx="289.05" cy="349.22" r="1.5"/>
<circle cx="291.37" cy="348.87" r="1.5"/>
<circle cx="280.86" cy="352.18" r="1.5"/>
<circle cx="283.92" cy="352.70" r="1.5"/>
<circle cx="286.45" cy="352.15" r="1.5"/>
<circle cx="289.19" cy="352.67" r="1.5"/>
<circle cx="291.58" cy="352.67" r="1.5"/>
<circle cx="346.80" cy="284.90" r="1.5"/>
<circle cx="352.30" cy="284.90" r="1.5"/>
<circle cx="355.80" cy="284.90" r="1.5"/>
<circle cx="348.90" cy="314.70" r="1.5"/>
<circle cx="351.60" cy="312.30" r="1.5"/>
<circle cx="351.00" cy="315.40" r="1.5"/>
<circle cx="351.60" cy="317.50" r="1.5"/>
<circle cx="353.70" cy="318.20" r="1.5"/>
<circle cx="355.10" cy="319.50" r="1.5"/>
<circle cx="356.40" cy="320.90" r="1.5"/>
<circle cx="357.80" cy="322.00" r="1.5"/>
<circle cx="359.90" cy="322.30" r="1.5"/>
<circle cx="362.60" cy="322.30" r="1.5"/>
<circle cx="363.60" cy="320.20" r="1.5"/>
<circle cx="364.40" cy="320.90" r="1.5"/>
<circle cx="368.80" cy="319.50" r="1.5"/>
<circle cx="350.00" cy="350.00" r="1.5"/>
<circle cx="350.00" cy="353.00" r="1.5"/>
<circle cx="355.50" cy="351.50" r="1.5"/>
<circle cx="358.00" cy="350.50" r="1.5"/>
<circle cx="361.00" cy="351.00" r="1.5"/>
<circle cx="364.00" cy="352.00" r="1.5"/>
<circle cx="405.60" cy="219.20" r="1.5"/>
<circle cx="408.30" cy="219.20" r="1.5"/>
<circle cx="410.80" cy="219.20" r="1.5"/>
<circle cx="413.40" cy="219.20" r="1.5"/>
<circle cx="408.60" cy="245.50" r="1.5"/>
<circle cx="411.90" cy="245.50" r="1.5"/>
<circle cx="415.50" cy="245.50" r="1.5"/>
<circle cx="417.60" cy="245.50" r="1.5"/>
<circle cx="408.50" cy="247.80" r="1.5"/>
<circle cx="412.00" cy="247.80" r="1.5"/>
<circle cx="415.00" cy="247.80" r="1.5"/>
<circle cx="408.00" cy="250.00" r="1.5"/>
<circle cx="411.50" cy="250.00" r="1.5"/>
<circle cx="415.00" cy="250.00" r="1.5"/>
<circle cx="418.50" cy="250.00" r="1.5"/>
<circle cx="427.70" cy="250.00" r="1.5"/>
<circle cx="431.60" cy="250.00" r="1.5"/>
<circle cx="408.00" cy="252.20" r="1.5"/>
<circle cx="411.50" cy="252.20" r="1.5"/>
<circle cx="415.00" cy="252.20" r="1.5"/>
<circle cx="418.00" cy="252.20" r="1.5"/>
<circle cx="422.00" cy="252.20" r="1.5"/>
<circle cx="425.50" cy="252.20" r="1.5"/>
<circle cx="429.00" cy="252.20" r="1.5"/>
<circle cx="417.00" cy="254.50" r="1.5"/>
<circle cx="420.50" cy="254.50" r="1.5"/>
<circle cx="424.00" cy="254.50" r="1.5"/>
<circle cx="427.00" cy="254.50" r="1.5"/>
<circle cx="410.90" cy="275.80" r="1.5"/>
<circle cx="415.30" cy="277.30" r="1.5"/>
<circle cx="419.70" cy="275.80" r="1.5"/>
<circle cx="409.10" cy="282.70" r="1.5"/>
<circle cx="410.60" cy="280.60" r="1.5"/>
<circle cx="412.00" cy="281.50" r="1.5"/>
<circle cx="413.50" cy="280.90" r="1.5"/>
<circle cx="414.90" cy="282.40" r="1.5"/>
<circle cx="416.00" cy="281.00" r="1.5"/>
<circle cx="417.10" cy="281.70" r="1.5"/>
<circle cx="419.30" cy="280.90" r="1.5"/>
<circle cx="417.50" cy="286.80" r="1.5"/>
<circle cx="421.50" cy="280.90" r="1.5"/>
<circle cx="422.50" cy="282.80" r="1.5"/>
<circle cx="423.70" cy="282.00" r="1.5"/>
<circle cx="425.10" cy="284.60" r="1.5"/>
<circle cx="425.80" cy="286.80" r="1.5"/>
<circle cx="427.30" cy="280.60" r="1.5"/>
<circle cx="429.10" cy="283.80" r="1.5"/>
<circle cx="430.20" cy="280.60" r="1.5"/>
<circle cx="432.00" cy="280.90" r="1.5"/>
<circle cx="433.10" cy="284.60" r="1.5"/>
<circle cx="434.60" cy="282.40" r="1.5"/>
<circle cx="436.40" cy="280.60" r="1.5"/>
<circle cx="437.10" cy="286.80" r="1.5"/>
<circle cx="435.30" cy="285.30" r="1.5"/>
<circle cx="440.80" cy="284.90" r="1.5"/>
<circle cx="428.00" cy="285.70" r="1.5"/>
<circle cx="431.00" cy="285.50" r="1.5"/>
<circle cx="426.00" cy="282.30" r="1.5"/>
<circle cx="415.60" cy="310.57" r="1.5"/>
<circle cx="417.45" cy="310.44" r="1.5"/>
<circle cx="419.30" cy="310.36" r="1.5"/>
<circle cx="421.15" cy="310.44" r="1.5"/>
<circle cx="423.00" cy="310.32" r="1.5"/>
<circle cx="409.80" cy="313.00" r="1.5"/>
<circle cx="411.56" cy="313.25" r="1.5"/>
<circle cx="413.32" cy="313.22" r="1.5"/>
<circle cx="415.09" cy="313.31" r="1.5"/>
<circle cx="416.85" cy="313.23" r="1.5"/>
<circle cx="418.61" cy="312.96" r="1.5"/>
<circle cx="420.38" cy="313.13" r="1.5"/>
<circle cx="422.14" cy="313.06" r="1.5"/>
<circle cx="423.90" cy="313.27" r="1.5"/>
<circle cx="425.66" cy="313.11" r="1.5"/>
<circle cx="427.43" cy="312.96" r="1.5"/>
<circle cx="429.19" cy="313.19" r="1.5"/>
<circle cx="430.95" cy="313.38" r="1.5"/>
<circle cx="432.71" cy="312.93" r="1.5"/>
<circle cx="434.48" cy="313.33" r="1.5"/>
<circle cx="436.24" cy="312.81" r="1.5"/>
<circle cx="438.00" cy="312.96" r="1.5"/>
<circle cx="415.60" cy="316.94" r="1.5"/>
<circle cx="417.85" cy="317.25" r="1.5"/>
<circle cx="420.10" cy="317.37" r="1.5"/>
<circle cx="422.35" cy="317.25" r="1.5"/>
<circle cx="424.60" cy="317.00" r="1.5"/>
<circle cx="426.85" cy="317.33" r="1.5"/>
<circle cx="429.10" cy="317.00" r="1.5"/>
<circle cx="431.35" cy="316.94" r="1.5"/>
<circle cx="433.60" cy="317.34" r="1.5"/>
<circle cx="435.85" cy="317.18" r="1.5"/>
<circle cx="438.10" cy="317.22" r="1.5"/>
<circle cx="440.35" cy="317.20" r="1.5"/>
<circle cx="442.60" cy="317.39" r="1.5"/>
<circle cx="412.00" cy="315.00" r="1.5"/>
<circle cx="418.00" cy="315.20" r="1.5"/>
<circle cx="424.00" cy="315.00" r="1.5"/>
<circle cx="430.00" cy="315.30" r="1.5"/>
<circle cx="418.00" cy="341.18" r="1.5"/>
<circle cx="420.60" cy="341.40" r="1.5"/>
<circle cx="423.20" cy="341.32" r="1.5"/>
<circle cx="425.80" cy="341.41" r="1.5"/>
<circle cx="428.40" cy="341.16" r="1.5"/>
<circle cx="431.00" cy="341.33" r="1.5"/>
<circle cx="412.00" cy="344.04" r="1.5"/>
<circle cx="414.50" cy="343.88" r="1.5"/>
<circle cx="417.00" cy="343.83" r="1.5"/>
<circle cx="419.50" cy="344.07" r="1.5"/>
<circle cx="422.00" cy="343.75" r="1.5"/>
<circle cx="424.50" cy="344.25" r="1.5"/>
<circle cx="427.00" cy="343.79" r="1.5"/>
<circle cx="429.50" cy="343.72" r="1.5"/>
<circle cx="432.00" cy="343.76" r="1.5"/>
<circle cx="434.50" cy="344.26" r="1.5"/>
<circle cx="437.00" cy="343.91" r="1.5"/>
<circle cx="441.50" cy="344.00" r="1.5"/>
<circle cx="418.00" cy="346.99" r="1.5"/>
<circle cx="420.67" cy="346.92" r="1.5"/>
<circle cx="423.33" cy="346.92" r="1.5"/>
<circle cx="426.00" cy="347.32" r="1.5"/>
<circle cx="428.67" cy="347.28" r="1.5"/>
<circle cx="431.33" cy="347.32" r="1.5"/>
<circle cx="434.00" cy="347.34" r="1.5"/>
<circle cx="417.00" cy="350.14" r="1.5"/>
<circle cx="420.00" cy="350.45" r="1.5"/>
<circle cx="423.00" cy="350.32" r="1.5"/>
<circle cx="426.00" cy="350.59" r="1.5"/>
<circle cx="429.00" cy="350.59" r="1.5"/>
<circle cx="432.00" cy="350.63" r="1.5"/>
<circle cx="496.20" cy="242.21" r="1.5"/>
<circle cx="498.62" cy="242.37" r="1.5"/>
<circle cx="501.03" cy="242.38" r="1.5"/>
<circle cx="503.45" cy="242.39" r="1.5"/>
<circle cx="505.87" cy="242.22" r="1.5"/>
<circle cx="508.28" cy="242.24" r="1.5"/>
<circle cx="510.70" cy="242.22" r="1.5"/>
<circle cx="513.12" cy="242.21" r="1.5"/>
<circle cx="515.53" cy="242.37" r="1.5"/>
<circle cx="517.95" cy="242.36" r="1.5"/>
<circle cx="520.37" cy="242.33" r="1.5"/>
<circle cx="522.78" cy="242.37" r="1.5"/>
<circle cx="525.20" cy="242.33" r="1.5"/>
<circle cx="497.40" cy="244.96" r="1.5"/>
<circle cx="499.91" cy="244.92" r="1.5"/>
<circle cx="502.42" cy="244.92" r="1.5"/>
<circle cx="504.92" cy="245.05" r="1.5"/>
<circle cx="507.43" cy="244.94" r="1.5"/>
<circle cx="509.94" cy="244.96" r="1.5"/>
<circle cx="512.45" cy="244.98" r="1.5"/>
<circle cx="514.96" cy="244.90" r="1.5"/>
<circle cx="517.47" cy="244.95" r="1.5"/>
<circle cx="519.98" cy="244.96" r="1.5"/>
<circle cx="522.48" cy="245.04" r="1.5"/>
<circle cx="524.99" cy="244.97" r="1.5"/>
<circle cx="527.50" cy="244.96" r="1.5"/>
<circle cx="511.00" cy="271.60" r="1.5"/>
<circle cx="513.60" cy="271.60" r="1.5"/>
<circle cx="495.50" cy="286.59" r="1.5"/>
<circle cx="498.00" cy="286.40" r="1.5"/>
<circle cx="500.50" cy="286.54" r="1.5"/>
<circle cx="503.00" cy="286.45" r="1.5"/>
<circle cx="505.50" cy="286.21" r="1.5"/>
<circle cx="508.00" cy="286.37" r="1.5"/>
<circle cx="508.00" cy="285.37" r="1.5"/>
<circle cx="510.50" cy="285.51" r="1.5"/>
<circle cx="513.00" cy="285.34" r="1.5"/>
<circle cx="533.20" cy="268.32" r="1.5"/>
<circle cx="535.72" cy="268.22" r="1.5"/>
<circle cx="538.24" cy="268.03" r="1.5"/>
<circle cx="540.77" cy="268.42" r="1.5"/>
<circle cx="543.29" cy="267.95" r="1.5"/>
<circle cx="545.81" cy="268.39" r="1.5"/>
<circle cx="548.33" cy="268.00" r="1.5"/>
<circle cx="550.85" cy="267.90" r="1.5"/>
<circle cx="553.37" cy="268.02" r="1.5"/>
<circle cx="555.90" cy="268.36" r="1.5"/>
<circle cx="558.42" cy="268.49" r="1.5"/>
<circle cx="560.94" cy="267.90" r="1.5"/>
<circle cx="563.46" cy="268.19" r="1.5"/>
<circle cx="565.98" cy="268.19" r="1.5"/>
<circle cx="568.50" cy="268.38" r="1.5"/>
<circle cx="571.03" cy="268.01" r="1.5"/>
<circle cx="573.55" cy="268.20" r="1.5"/>
<circle cx="576.07" cy="268.11" r="1.5"/>
<circle cx="578.59" cy="268.40" r="1.5"/>
<circle cx="581.11" cy="268.06" r="1.5"/>
<circle cx="583.63" cy="268.47" r="1.5"/>
<circle cx="586.16" cy="268.07" r="1.5"/>
<circle cx="588.68" cy="268.03" r="1.5"/>
<circle cx="591.20" cy="268.32" r="1.5"/>
<circle cx="548.00" cy="266.30" r="1.5"/>
<circle cx="550.50" cy="266.30" r="1.5"/>
<circle cx="553.00" cy="266.30" r="1.5"/>
<circle cx="556.00" cy="266.30" r="1.5"/>
<circle cx="559.00" cy="266.30" r="1.5"/>
<circle cx="546.70" cy="296.00" r="1.5"/>
<circle cx="551.60" cy="296.00" r="1.5"/>
<circle cx="490.00" cy="307.20" r="1.5"/>
<circle cx="492.64" cy="307.12" r="1.5"/>
<circle cx="495.28" cy="307.23" r="1.5"/>
<circle cx="497.93" cy="307.12" r="1.5"/>
<circle cx="500.57" cy="307.26" r="1.5"/>
<circle cx="503.21" cy="307.24" r="1.5"/>
<circle cx="505.85" cy="307.26" r="1.5"/>
<circle cx="508.49" cy="307.23" r="1.5"/>
<circle cx="511.13" cy="307.17" r="1.5"/>
<circle cx="513.78" cy="307.18" r="1.5"/>
<circle cx="516.42" cy="307.18" r="1.5"/>
<circle cx="519.06" cy="307.28" r="1.5"/>
<circle cx="521.70" cy="307.12" r="1.5"/>
<circle cx="517.80" cy="310.00" r="1.5"/>
<circle cx="520.80" cy="310.40" r="1.5"/>
<circle cx="526.70" cy="308.00" r="1.5"/>
<circle cx="528.70" cy="310.00" r="1.5"/>
<circle cx="529.70" cy="311.40" r="1.5"/>
<circle cx="532.70" cy="311.40" r="1.5"/>
<circle cx="534.70" cy="311.00" r="1.5"/>
<circle cx="536.60" cy="308.00" r="1.5"/>
<circle cx="537.60" cy="310.00" r="1.5"/>
<circle cx="539.60" cy="309.40" r="1.5"/>
<circle cx="542.60" cy="311.40" r="1.5"/>
<circle cx="544.60" cy="310.40" r="1.5"/>
<circle cx="545.30" cy="310.30" r="1.5"/>
<circle cx="547.90" cy="309.00" r="1.5"/>
<circle cx="550.90" cy="308.20" r="1.5"/>
<circle cx="551.30" cy="312.50" r="1.5"/>
<circle cx="553.50" cy="309.90" r="1.5"/>
<circle cx="554.80" cy="312.50" r="1.5"/>
<circle cx="557.40" cy="310.30" r="1.5"/>
<circle cx="560.80" cy="308.20" r="1.5"/>
<circle cx="562.50" cy="310.30" r="1.5"/>
<circle cx="564.30" cy="308.20" r="1.5"/>
<circle cx="566.40" cy="310.80" r="1.5"/>
<circle cx="569.00" cy="311.20" r="1.5"/>
<circle cx="571.60" cy="311.20" r="1.5"/>
<circle cx="574.20" cy="311.20" r="1.5"/>
<circle cx="577.20" cy="309.90" r="1.5"/>
<circle cx="579.80" cy="308.20" r="1.5"/>
<circle cx="582.40" cy="308.20" r="1.5"/>
<circle cx="585.00" cy="308.20" r="1.5"/>
<circle cx="588.00" cy="308.20" r="1.5"/>
<circle cx="582.40" cy="311.20" r="1.5"/>
<circle cx="585.00" cy="311.20" r="1.5"/>
<circle cx="588.00" cy="311.20" r="1.5"/>
<circle cx="496.30" cy="332.91" r="1.5"/>
<circle cx="499.06" cy="332.22" r="1.5"/>
<circle cx="501.81" cy="332.36" r="1.5"/>
<circle cx="504.57" cy="332.41" r="1.5"/>
<circle cx="507.33" cy="332.92" r="1.5"/>
<circle cx="510.09" cy="332.60" r="1.5"/>
<circle cx="512.84" cy="332.50" r="1.5"/>
<circle cx="515.60" cy="332.91" r="1.5"/>
<circle cx="511.00" cy="336.50" r="1.5"/>
<circle cx="514.00" cy="336.50" r="1.5"/>
<circle cx="511.50" cy="339.50" r="1.5"/>
<circle cx="514.50" cy="339.50" r="1.5"/>
<circle cx="526.80" cy="331.69" r="1.5"/>
<circle cx="529.49" cy="331.78" r="1.5"/>
<circle cx="532.17" cy="331.81" r="1.5"/>
<circle cx="534.86" cy="331.90" r="1.5"/>
<circle cx="537.55" cy="331.90" r="1.5"/>
<circle cx="540.23" cy="331.86" r="1.5"/>
<circle cx="542.92" cy="331.74" r="1.5"/>
<circle cx="545.61" cy="331.73" r="1.5"/>
<circle cx="548.30" cy="331.66" r="1.5"/>
<circle cx="550.98" cy="331.94" r="1.5"/>
<circle cx="553.67" cy="331.86" r="1.5"/>
<circle cx="556.36" cy="331.90" r="1.5"/>
<circle cx="559.04" cy="331.67" r="1.5"/>
<circle cx="561.73" cy="331.78" r="1.5"/>
<circle cx="564.42" cy="331.91" r="1.5"/>
<circle cx="567.10" cy="331.83" r="1.5"/>
<circle cx="569.79" cy="331.65" r="1.5"/>
<circle cx="572.48" cy="331.78" r="1.5"/>
<circle cx="575.17" cy="331.95" r="1.5"/>
<circle cx="577.85" cy="331.70" r="1.5"/>
<circle cx="580.54" cy="331.68" r="1.5"/>
<circle cx="583.23" cy="331.72" r="1.5"/>
<circle cx="585.91" cy="331.88" r="1.5"/>
<circle cx="588.60" cy="331.94" r="1.5"/>
<circle cx="527.50" cy="330.30" r="1.5"/>
<circle cx="530.00" cy="330.30" r="1.5"/>
<circle cx="532.50" cy="330.50" r="1.5"/>
<circle cx="527.00" cy="353.50" r="1.5"/>
<circle cx="527.00" cy="357.00" r="1.5"/>
<circle cx="529.90" cy="353.50" r="1.5"/>
<circle cx="531.40" cy="355.40" r="1.5"/>
<circle cx="533.60" cy="357.60" r="1.5"/>
<circle cx="535.20" cy="355.40" r="1.5"/>
<circle cx="537.40" cy="358.30" r="1.5"/>
<circle cx="538.70" cy="355.40" r="1.5"/>
<circle cx="540.90" cy="355.40" r="1.5"/>
<circle cx="542.40" cy="357.00" r="1.5"/>
<circle cx="544.30" cy="358.30" r="1.5"/>
<circle cx="545.90" cy="355.40" r="1.5"/>
<circle cx="546.80" cy="359.50" r="1.5"/>
<circle cx="548.70" cy="355.40" r="1.5"/>
<circle cx="550.30" cy="359.50" r="1.5"/>
<circle cx="551.60" cy="355.40" r="1.5"/>
<circle cx="552.80" cy="358.00" r="1.5"/>
<circle cx="555.30" cy="353.50" r="1.5"/>
<circle cx="557.80" cy="353.50" r="1.5"/>
<circle cx="555.30" cy="357.00" r="1.5"/>
<circle cx="557.80" cy="357.00" r="1.5"/>
<circle cx="558.00" cy="354.00" r="1.5"/>
<circle cx="558.30" cy="357.60" r="1.5"/>
<circle cx="561.60" cy="359.20" r="1.5"/>
<circle cx="564.00" cy="354.00" r="1.5"/>
<circle cx="564.30" cy="357.60" r="1.5"/>
<circle cx="566.90" cy="356.90" r="1.5"/>
<circle cx="567.60" cy="359.90" r="1.5"/>
<circle cx="570.60" cy="355.30" r="1.5"/>
<circle cx="571.20" cy="359.20" r="1.5"/>
<circle cx="573.50" cy="353.60" r="1.5"/>
<circle cx="576.20" cy="354.00" r="1.5"/>
<circle cx="576.20" cy="356.90" r="1.5"/>
<circle cx="579.20" cy="359.20" r="1.5"/>
<circle cx="582.50" cy="355.30" r="1.5"/>
<circle cx="582.20" cy="359.90" r="1.5"/>
<circle cx="585.10" cy="357.60" r="1.5"/>
<circle cx="587.80" cy="355.30" r="1.5"/>
<circle cx="589.10" cy="356.60" r="1.5"/>
<circle cx="587.10" cy="359.90" r="1.5"/>
<circle cx="589.40" cy="358.90" r="1.5"/>
<circle cx="529.00" cy="356.00" r="1.5"/>
<circle cx="534.00" cy="356.50" r="1.5"/>
<circle cx="539.50" cy="357.50" r="1.5"/>
<circle cx="543.00" cy="356.00" r="1.5"/>
<circle cx="548.00" cy="357.50" r="1.5"/>
<circle cx="560.00" cy="356.00" r="1.5"/>
<circle cx="562.50" cy="357.00" r="1.5"/>
<circle cx="569.00" cy="357.50" r="1.5"/>
<circle cx="574.50" cy="357.00" r="1.5"/>
<circle cx="578.00" cy="356.00" r="1.5"/>
<circle cx="581.00" cy="357.00" r="1.5"/>
<circle cx="584.00" cy="356.00" r="1.5"/>
</svg>
</body></html>
